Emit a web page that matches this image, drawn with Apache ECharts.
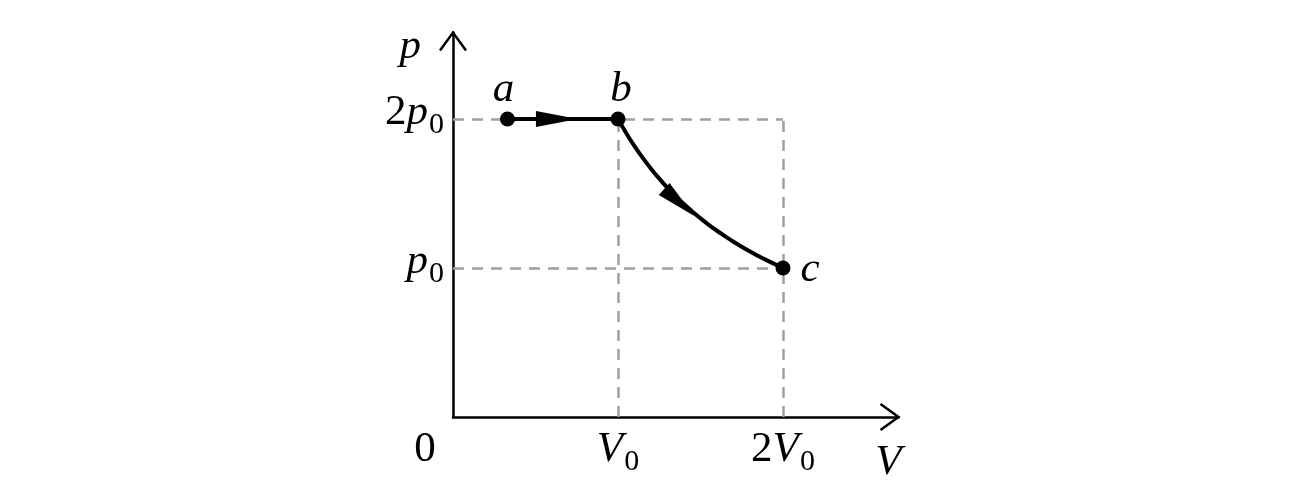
<!DOCTYPE html>
<html>
<head>
<meta charset="utf-8">
<script src="https://cdn.jsdelivr.net/npm/echarts@6/dist/echarts.min.js"></script>
<style>
html,body{margin:0;padding:0;background:#fff;}
#main{width:1306px;height:489px;}
</style>
</head>
<body>
<div id="main"></div>
<script>
// ---- data ----
const stateNames = ['a', 'b', 'c'];
const stateV = [0.33, 1, 2];
const stateP = [2, 2, 1];
// isotherm b -> c
const curveV = [1, 1.05, 1.1, 1.15, 1.2, 1.25, 1.3, 1.35, 1.4, 1.45, 1.5, 1.55, 1.6, 1.65, 1.7, 1.75, 1.8, 1.85, 1.9, 1.95, 2];
const curveP = [2, 1.905, 1.818, 1.739, 1.667, 1.6, 1.538, 1.481, 1.429, 1.379, 1.333, 1.29, 1.25, 1.212, 1.176, 1.143, 1.111, 1.081, 1.053, 1.026, 1];
// direction arrows (position on path)
const arrowV = [0.63, 1.37];
const arrowP = [2, 1.44];
// guide (dashed) levels
const guideVs = [1, 2];
const guidePs = [1, 2];
// tick labels
const xTickLabels = { 0: '{o|0}', 1: '{i|V}{s|0}', 2: '{n|2}{i|V}{s|0}' };
const yTickLabels = { 1: '{i|p}{s|0}', 2: '{n|2}{i|p}{s|0}' };
const xName = 'V';
const yName = 'p';
const xMax = 2.7, yMax = 2.58;

const FONT = 'Liberation Serif';
const FS = 43, SFS = 30;
const rich = {
  n: { fontFamily: FONT, fontSize: FS, color: '#000', verticalAlign: 'bottom', lineHeight: FS, padding: [0, 0, 6, 0] },
  i: { fontFamily: FONT, fontSize: FS, fontStyle: 'italic', color: '#000', verticalAlign: 'bottom', lineHeight: FS, padding: [0, 1, 6, 0] },
  s: { fontFamily: FONT, fontSize: SFS, color: '#000', verticalAlign: 'bottom', lineHeight: SFS },
  o: { fontFamily: FONT, fontSize: FS, color: '#000', verticalAlign: 'bottom', lineHeight: FS, padding: [0, 56, 6, 0] }
};

const guideData = [];
guidePs.forEach(p => guideData.push({ coords: [[0, p], [Math.max(...guideVs), p]] }));
guideVs.forEach(v => guideData.push({ coords: [[v, 0], [v, Math.max(...guidePs)]] }));

const chart = echarts.init(document.getElementById('main'));
const option = {
  animation: false,
  backgroundColor: '#fff',
  grid: { left: 453, bottom: 72, width: 445.5, height: 384.4, containLabel: false },
  xAxis: {
    type: 'value', min: 0, max: xMax, interval: 1,
    axisLine: { show: true, onZero: false, lineStyle: { color: '#000', width: 2.5 } },
    axisTick: { show: false },
    splitLine: { show: false },
    axisLabel: {
      margin: 17, showMaxLabel: false,
      formatter: v => xTickLabels[v] || '',
      rich: rich
    },
    name: xName, nameLocation: 'end', nameGap: -10,
    nameTextStyle: { fontFamily: FONT, fontSize: FS, fontStyle: 'italic', color: '#000', align: 'center', verticalAlign: 'top', padding: [24, 0, 0, 0] }
  },
  yAxis: {
    type: 'value', min: 0, max: yMax, interval: 1,
    axisLine: { show: true, onZero: false, lineStyle: { color: '#000', width: 2.5 } },
    axisTick: { show: false },
    splitLine: { show: false },
    axisLabel: {
      margin: 9, showMaxLabel: false,
      formatter: v => yTickLabels[v] || '',
      rich: rich
    },
    name: yName, nameLocation: 'end', nameGap: -14,
    nameTextStyle: { fontFamily: FONT, fontSize: FS, fontStyle: 'italic', color: '#000', align: 'right', verticalAlign: 'middle', padding: [0, 32, 0, 0] }
  },
  series: [
    {
      type: 'lines', coordinateSystem: 'cartesian2d', silent: true, z: 1,
      lineStyle: { color: '#a0a0a0', width: 2.5, type: [11, 8], opacity: 1 },
      data: guideData
    },
    {
      type: 'line', showSymbol: false, z: 3,
      lineStyle: { color: '#000', width: 4 },
      data: [[stateV[0], stateP[0]], [stateV[1], stateP[1]]]
    },
    {
      type: 'line', showSymbol: false, smooth: 0.3, z: 3,
      lineStyle: { color: '#000', width: 4 },
      data: curveV.map((v, i) => [v, curveP[i]])
    },
    {
      type: 'scatter', z: 4,
      symbol: 'path://M0,0 L10,5 L0,10 Z',
      itemStyle: { color: '#000', opacity: 1 },
      data: [
        { value: [arrowV[0], arrowP[0]], symbolSize: [42, 16], symbolRotate: 0 },
        { value: [arrowV[1], arrowP[1]], symbolSize: [40, 16], symbolRotate: -42 }
      ]
    },
    {
      type: 'scatter', z: 5, symbol: 'circle', symbolSize: 15,
      itemStyle: { color: '#000', opacity: 1 },
      label: {
        show: true, fontFamily: FONT, fontSize: FS, fontStyle: 'italic', color: '#000',
        formatter: p => stateNames[p.dataIndex]
      },
      data: stateV.map((v, i) => ({
        value: [v, stateP[i]],
        label: i === 2 ? { position: 'right', distance: 10, offset: [0, 2] } : { position: 'top', distance: 0, offset: [i === 0 ? -4 : 3, 0] }
      }))
    }
  ]
};
chart.setOption(option);

// open chevron arrowheads at the axis ends
const xe = chart.convertToPixel({ gridIndex: 0 }, [xMax, 0]);
const ye = chart.convertToPixel({ gridIndex: 0 }, [0, yMax]);
const L = 18, W = 13;
chart.setOption({
  graphic: [
    { type: 'polyline', shape: { points: [[xe[0] - L, xe[1] - W], [xe[0], xe[1]], [xe[0] - L, xe[1] + W]] }, style: { stroke: '#000', lineWidth: 2.5, fill: null }, z: 10 },
    { type: 'polyline', shape: { points: [[ye[0] - W, ye[1] + L], [ye[0], ye[1]], [ye[0] + W, ye[1] + L]] }, style: { stroke: '#000', lineWidth: 2.5, fill: null }, z: 10 }
  ]
});
</script>
</body>
</html>
